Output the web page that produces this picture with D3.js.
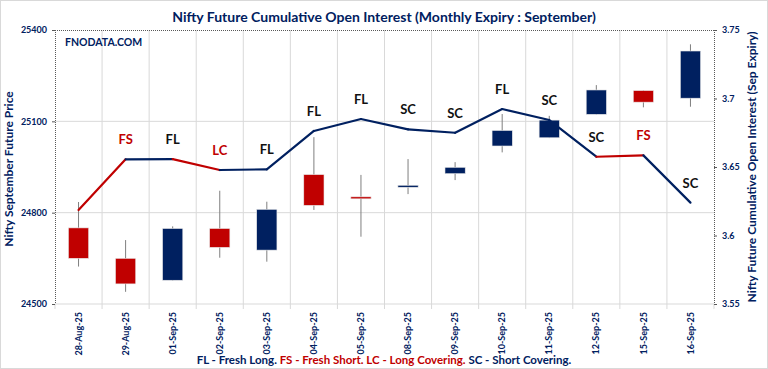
<!DOCTYPE html>
<html><head><meta charset="utf-8">
<script src="https://cdn.jsdelivr.net/npm/d3@7"></script>
<style>body{margin:0;background:#fff}svg{display:block}text{font-family:Lato,"Open Sans",sans-serif}</style>
</head><body><svg id="c" width="768" height="369"></svg>
<script>
const dates = ["28-Aug-25","29-Aug-25","01-Sep-25","02-Sep-25","03-Sep-25","04-Sep-25","05-Sep-25","08-Sep-25","09-Sep-25","10-Sep-25","11-Sep-25","12-Sep-25","15-Sep-25","16-Sep-25"];
const open  = [24750,24650,24578,24748,24677,24925,24852,24888,24928,25019,25046,25123,25201,25176];
const high  = [24835,24710,24755,24872,24836,25048,24924,24976,24966,25124,25118,25219,25202,25353];
const low   = [24623,24540,24577,24652,24639,24809,24721,24861,24907,24998,25045,25122,25146,25148];
const close = [24650,24566,24748,24686,24811,24824,24848,24890,24949,25070,25104,25203,25163,25331];
const oi    = [3.6186,3.6556,3.6558,3.6478,3.6483,3.6763,3.685,3.6775,3.675,3.6923,3.6843,3.6575,3.6585,3.624];
const labels = ["","FS","FL","LC","FL","FL","FL","SC","SC","FL","SC","SC","FS","SC"];
const priceTicks = [24500,24800,25100,25400];
const oiTicks = [3.55,3.6,3.65,3.7,3.75];

const NAVY="#002060", RED="#C00000", GRID="#d9d9d9";
const svg=d3.select("#c");
const L=55,R=714,T=30,B=304;
const x=d3.scaleBand().domain(dates).range([L,R]);
const y=d3.scaleLinear().domain([24500,25400]).range([B,T]);
const y2=d3.scaleLinear().domain([3.55,3.75]).range([B,T]);

svg.append("rect").attr("x",0.5).attr("y",0.5).attr("width",767).attr("height",368).attr("fill","#fff").attr("stroke","#d9d9d9");

// grid
svg.append("g").selectAll("line").data(dates.slice(1)).join("line")
  .attr("x1",d=>x(d)).attr("x2",d=>x(d)).attr("y1",T).attr("y2",B+5)
  .attr("stroke",GRID).attr("stroke-width",1);
svg.append("line").attr("x1",L).attr("x2",L).attr("y1",B).attr("y2",B+5).attr("stroke",GRID);
svg.append("line").attr("x1",R).attr("x2",R).attr("y1",B).attr("y2",B+5).attr("stroke",GRID);
svg.append("g").selectAll("line").data(priceTicks.slice(1,3)).join("line")
  .attr("x1",L).attr("x2",R).attr("y1",d=>y(d)).attr("y2",d=>y(d)).attr("stroke",GRID);
svg.append("line").attr("x1",L).attr("x2",R).attr("y1",B).attr("y2",B).attr("stroke",GRID);
// dotted frame
const frame=svg.append("g").attr("stroke","#595959").attr("stroke-dasharray","1,1").attr("stroke-width",1);
frame.append("line").attr("x1",L+0.5).attr("x2",L+0.5).attr("y1",T).attr("y2",B);
frame.append("line").attr("x1",R+0.5).attr("x2",R+0.5).attr("y1",T).attr("y2",B);
frame.append("line").attr("x1",L).attr("x2",R).attr("y1",T+0.5).attr("y2",T+0.5);

// axes
const ax=svg.append("g").attr("transform",`translate(${L},0)`)
  .call(d3.axisLeft(y).tickValues(priceTicks).tickSize(3).tickFormat(d3.format("d")));
ax.select(".domain").remove();
ax.selectAll("line").attr("stroke","#595959");
ax.selectAll("text").attr("x",-8).attr("fill",NAVY).attr("font-size",9).attr("font-weight",700);
const ax2=svg.append("g").attr("transform",`translate(${R},0)`)
  .call(d3.axisRight(y2).tickValues(oiTicks).tickSize(3).tickFormat(d=>String(+d.toFixed(2))));
ax2.select(".domain").remove();
ax2.selectAll("line").attr("stroke","#595959");
ax2.selectAll("text").attr("x",8).attr("fill",NAVY).attr("font-size",9).attr("font-weight",700);
const axb=svg.append("g").attr("transform",`translate(0,${B})`)
  .call(d3.axisBottom(x).tickSize(0));
axb.select(".domain").remove();
axb.selectAll("text").attr("transform","rotate(-90)").attr("text-anchor","end")
  .attr("x",-8).attr("y",0).attr("dy","0.35em").attr("fill",NAVY).attr("font-size",9).attr("font-weight",700);

// candles
const bw=x.bandwidth()*0.43;
const cg=svg.append("g");
dates.forEach((d,i)=>{
  const cx=x(d)+x.bandwidth()/2;
  const up=close[i]>=open[i];
  cg.append("line").attr("x1",cx).attr("x2",cx).attr("y1",y(high[i])).attr("y2",y(low[i]))
    .attr("stroke","#7f7f7f").attr("stroke-width",1);
  const top=y(Math.max(open[i],close[i])), bot=y(Math.min(open[i],close[i]));
  cg.append("rect").attr("x",cx-bw/2).attr("y",top).attr("width",bw).attr("height",Math.max(bot-top,2))
    .attr("fill",up?NAVY:RED).attr("stroke","#e8e8e8").attr("stroke-width",0.6);
});

// OI line
const lg=svg.append("g");
for(let i=1;i<dates.length;i++){
  const col=(labels[i]==="FS"||labels[i]==="LC")?RED:NAVY;
  lg.append("line")
    .attr("x1",x(dates[i-1])+x.bandwidth()/2).attr("y1",y2(oi[i-1]))
    .attr("x2",x(dates[i])+x.bandwidth()/2).attr("y2",y2(oi[i]))
    .attr("stroke",col).attr("stroke-width",2.2).attr("stroke-linecap","round");
}
svg.append("g").selectAll("text").data(labels).join("text")
  .attr("x",(d,i)=>x(dates[i])+x.bandwidth()/2).attr("y",(d,i)=>y2(oi[i])-15)
  .attr("text-anchor","middle").attr("font-size",13).attr("font-weight",700)
  .attr("fill",d=>(d==="FS"||d==="LC")?RED:"#111").text(d=>d);

// titles
svg.append("text").attr("x",384).attr("y",22).attr("text-anchor","middle")
  .attr("font-size",14).attr("font-weight",700).attr("fill",NAVY)
  .text("Nifty Future Cumulative Open Interest (Monthly Expiry : September)");
svg.append("text").attr("x",65).attr("y",46).attr("font-size",10.5).attr("font-weight",700).attr("fill",NAVY).text("FNODATA.COM");
svg.append("text").attr("transform",`translate(13,${(T+B)/2+2}) rotate(-90)`).attr("text-anchor","middle")
  .attr("font-size",12).attr("font-weight",700).attr("fill",NAVY).text("Nifty September Future Price");
svg.append("text").attr("transform",`translate(756,${(T+B)/2}) rotate(-90)`).attr("text-anchor","middle")
  .attr("font-size",12).attr("font-weight",700).attr("fill",NAVY).text("Nifty Future Cumulative Open Interest (Sep Expiry)");
const leg=svg.append("text").attr("x",384).attr("y",364).attr("text-anchor","middle").attr("font-size",11.5).attr("font-weight",700);
leg.append("tspan").attr("fill",NAVY).text("FL - Fresh Long. ");
leg.append("tspan").attr("fill",RED).text("FS - Fresh Short. LC - Long Covering.");
leg.append("tspan").attr("fill",NAVY).text(" SC - Short Covering.");
</script></body></html>
